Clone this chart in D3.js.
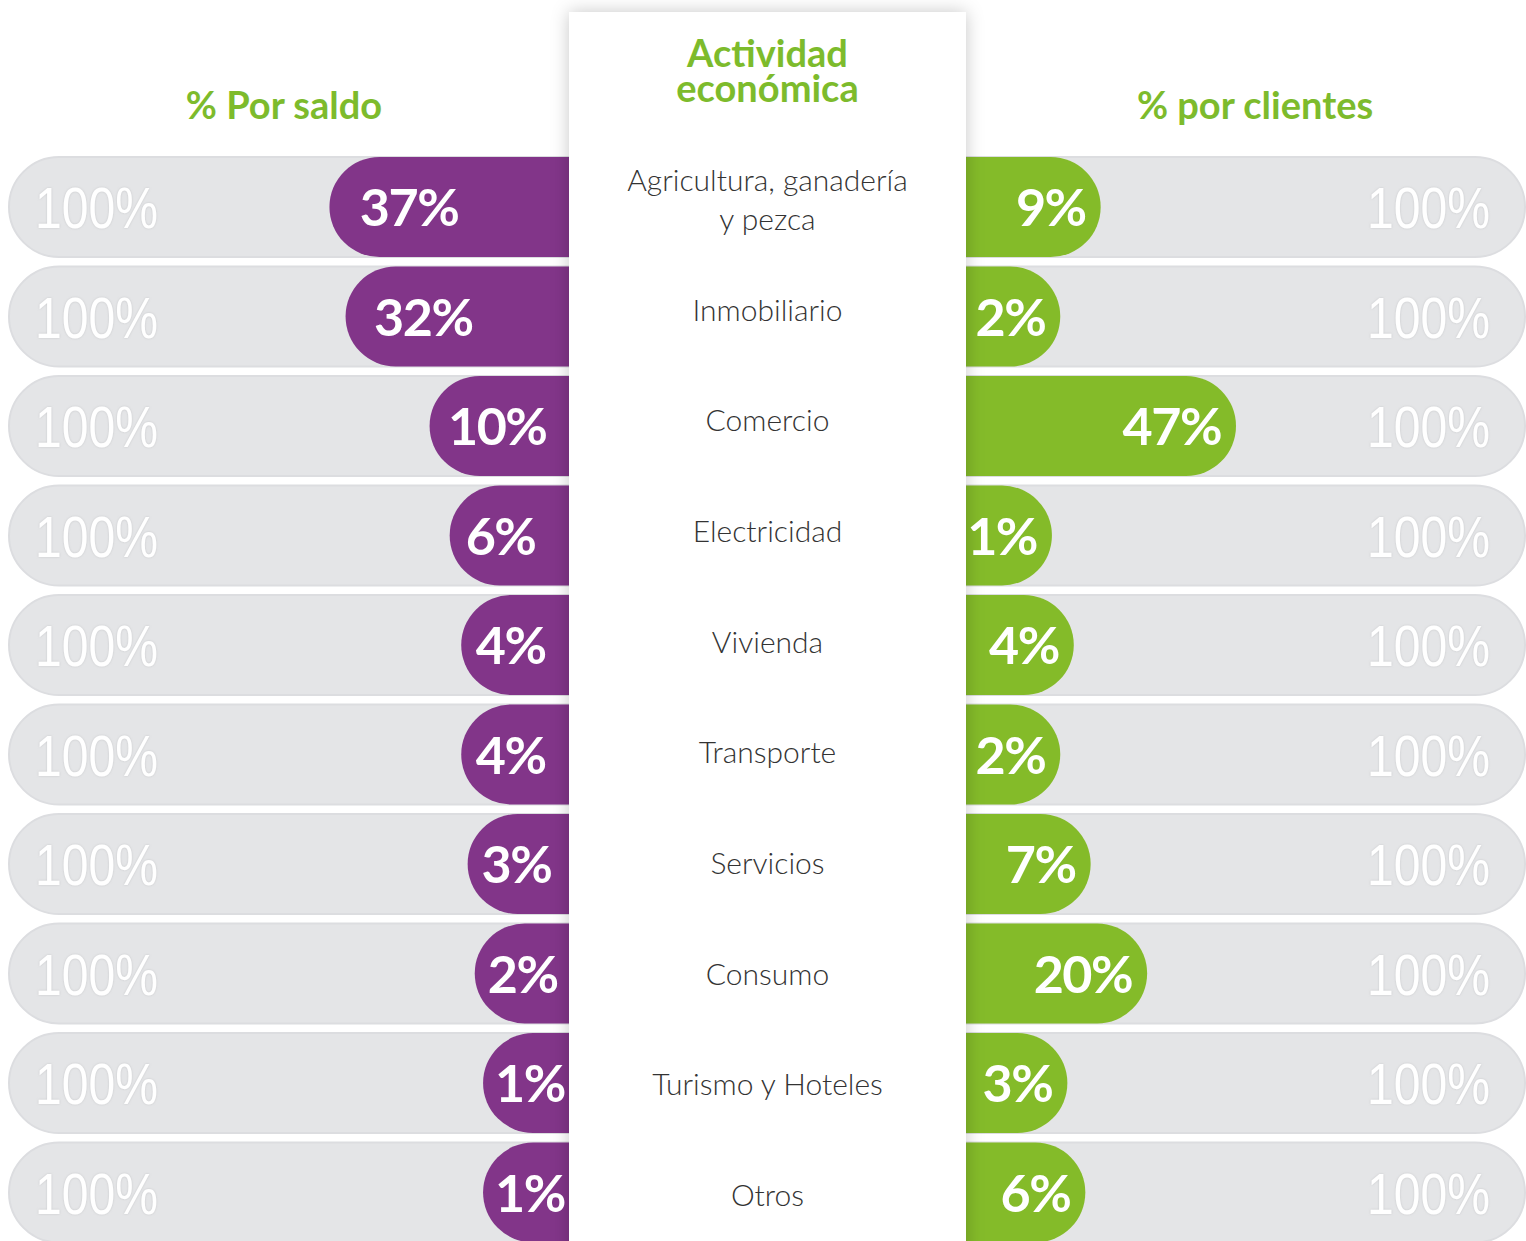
<!DOCTYPE html>
<html>
<head>
<meta charset="utf-8">
<script src="https://cdn.jsdelivr.net/npm/d3@7"></script>
<style>
  body { margin: 0; background: #fff; }
  svg { display: block; }
</style>
</head>
<body>
<div class="canva"></div>
<script>
var width = 1526;
var height = 1241;

// data
const categories = ['Agricultura, ganadería|y pezca', 'Inmobiliario', 'Comercio', 'Electricidad', 'Vivienda',
                    'Transporte', 'Servicios', 'Consumo', 'Turismo y Hoteles', 'Otros'];
const saldo = [37, 32, 10, 6, 4, 4, 3, 2, 1, 1];
const clientes = [9, 2, 47, 1, 4, 2, 7, 20, 3, 6];
const fullLabel = '100%';
const titles = ['% Por saldo', 'Actividad|económica', '% por clientes'];

const purple = '#823589';
const green = '#84bb29';
const track = '#e4e5e7';
const titleGreen = '#7dbb2c';

const colL = 569, colR = 966;   // centre column edges
const barH = 100;

const svg = d3.select('.canva').append('svg')
            .attr('width', width)
            .attr('height', height);

const defs = svg.append('defs');
const sh = defs.append('filter').attr('id', 'colShadow')
            .attr('x', '-10%').attr('y', '-10%').attr('width', '120%').attr('height', '120%');
sh.append('feDropShadow').attr('dx', 0).attr('dy', 0).attr('stdDeviation', 9)
  .attr('flood-color', '#000').attr('flood-opacity', 0.22);

const emb = defs.append('filter').attr('id', 'emboss');
emb.append('feDropShadow').attr('dx', 0).attr('dy', 0).attr('stdDeviation', 1)
  .attr('flood-color', '#b9babd').attr('flood-opacity', 0.7);

// scales
const y = d3.scalePoint().domain(d3.range(categories.length)).range([207, 1192.5]);
const yLab = d3.scalePoint().domain(d3.range(categories.length)).range([200, 1196]);
// pill length beyond the column edge
const len = d3.scalePow().exponent(0.7).domain([0, 47]).range([72.6, 270]);

const rowData = categories.map((c, i) => ({ cat: c, s: saldo[i], c: clientes[i], i: i }));

const rows = svg.append('g').selectAll('g.row')
  .data(rowData)
  .enter().append('g').attr('class', 'row')
  .attr('transform', d => `translate(0,${y(d.i) - barH / 2})`);

// grey tracks
rows.append('rect')
  .attr('x', 9).attr('width', 700).attr('height', barH).attr('rx', barH / 2)
  .attr('fill', track).attr('stroke', '#dcdde0').attr('stroke-width', 2);
rows.append('rect')
  .attr('x', 826).attr('width', 1525 - 826).attr('height', barH).attr('rx', barH / 2)
  .attr('fill', track).attr('stroke', '#dcdde0').attr('stroke-width', 2);

// 100% labels
[35, 1367].forEach(x0 => {
  rows.append('text')
    .attr('x', x0).attr('y', barH / 2 + 21)
    .attr('textLength', 123).attr('lengthAdjust', 'spacingAndGlyphs')
    .style('font-family', '"Liberation Sans", Arial, sans-serif')
    .style('font-size', '57px').attr('fill', '#fff').attr('filter', 'url(#emboss)')
    .text(fullLabel);
});

// value pills
rows.append('rect')
  .attr('x', d => colL - len(d.s)).attr('width', d => len(d.s) + 120)
  .attr('height', barH).attr('rx', barH / 2).attr('fill', purple);
rows.append('rect')
  .attr('x', colR - 120).attr('width', d => len(d.c) + 120)
  .attr('height', barH).attr('rx', barH / 2).attr('fill', green);

// centre column
svg.append('rect')
  .attr('x', colL).attr('y', 12).attr('width', colR - colL).attr('height', height + 40)
  .attr('fill', '#fff').attr('filter', 'url(#colShadow)');

// labels on top of the column
const lab = svg.append('g').selectAll('g.lab')
  .data(rowData)
  .enter().append('g').attr('class', 'lab');

const valFont = 'Lato, "Noto Sans", sans-serif';
lab.append('text')
  .attr('x', d => colL - len(d.s) + 12 + (len(d.s) - 86) * 0.12)
  .attr('y', d => y(d.i) + 19)
  .style('font-family', valFont).style('font-weight', 700).style('font-size', '52px')
  .style('letter-spacing', '-1.5px')
  .attr('fill', '#fff').text(d => d.s + '%');
lab.append('text')
  .attr('x', d => colR + len(d.c) - 15).attr('y', d => y(d.i) + 19)
  .attr('text-anchor', 'end')
  .style('font-family', valFont).style('font-weight', 700).style('font-size', '52px')
  .style('letter-spacing', '-1.5px')
  .attr('fill', '#fff').text(d => d.c + '%');

// category labels
lab.each(function(d) {
  const lines = d.cat.split('|');
  const t = d3.select(this).append('text')
    .attr('text-anchor', 'middle')
    .style('font-family', 'Lato, "Noto Sans", sans-serif').style('font-weight', 300)
    .style('font-size', '30px')
    .attr('fill', '#333');
  lines.forEach((l, k) => {
    t.append('tspan').attr('x', (colL + colR) / 2)
      .attr('y', yLab(d.i) + 10 + (k - (lines.length - 1) / 2) * 39)
      .text(l);
  });
});

// titles
const titleStyle = sel => sel.attr('text-anchor', 'middle')
  .style('font-family', 'Lato, "Noto Sans", sans-serif').style('font-weight', 700)
  .style('font-size', '38px').attr('fill', titleGreen);
svg.append('text').attr('x', 284).attr('y', 119).call(titleStyle).text(titles[0]);
svg.append('text').attr('x', 1255).attr('y', 119).call(titleStyle).text(titles[2]);
const mid = svg.append('text').call(titleStyle);
titles[1].split('|').forEach((l, k) => {
  mid.append('tspan').attr('x', (colL + colR) / 2).attr('y', 67 + k * 35).text(l);
});
</script>
</body>
</html>
